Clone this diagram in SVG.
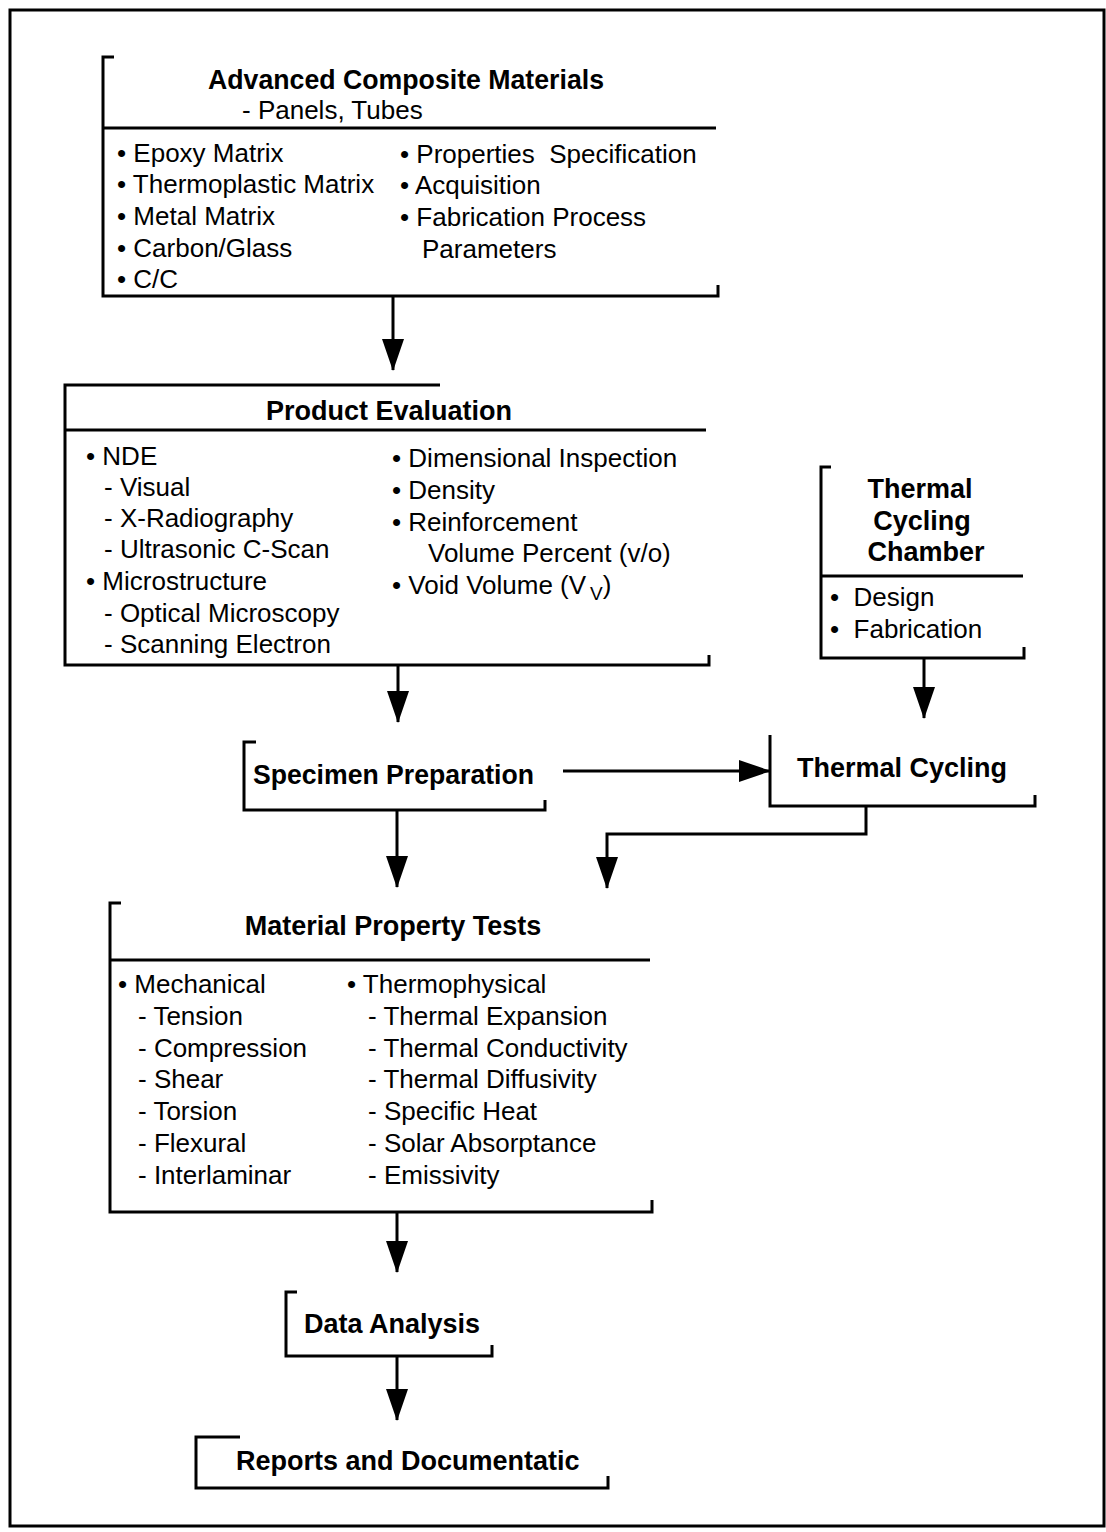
<svg xmlns="http://www.w3.org/2000/svg" width="1106" height="1532" viewBox="0 0 1106 1532">
<style>
.frame{fill:none;stroke:#000;stroke-width:3}
.ln{fill:none;stroke:#000;stroke-width:3}
.cn{fill:none;stroke:#000;stroke-width:3}
text{font-family:"Liberation Sans",Arial,sans-serif;fill:#000;white-space:pre}
.t{font-size:27px;font-weight:bold}
.r{font-size:26px}
.c{text-anchor:middle}
</style>
<defs>
<marker id="ah" viewBox="0 0 32 22" markerWidth="32" markerHeight="22" refX="31" refY="11" orient="auto" markerUnits="userSpaceOnUse">
<path d="M0,0 L32,11 L0,22 Z" fill="#000"/>
</marker>
</defs>
<rect x="0" y="0" width="1106" height="1532" fill="#fff"/>
<rect class="frame" x="10" y="10" width="1094" height="1516"/>

<g id="acm">
<path class="ln" d="M114,57 H103 V296 H718 V285"/>
<path class="ln" d="M103,128 H716"/>
<text class="t c" x="406" y="89" textLength="396" lengthAdjust="spacingAndGlyphs">Advanced Composite Materials</text>
<text class="r" x="242" y="119">- Panels, Tubes</text>
<text class="r" x="117" y="162">• Epoxy Matrix</text>
<text class="r" x="117" y="193">• Thermoplastic Matrix</text>
<text class="r" x="117" y="225">• Metal Matrix</text>
<text class="r" x="117" y="257">• Carbon/Glass</text>
<text class="r" x="117" y="288">• C/C</text>
<text class="r" x="400" y="163" xml:space="preserve">• Properties  Specification</text>
<text class="r" x="400" y="194">• Acquisition</text>
<text class="r" x="400" y="226">• Fabrication Process</text>
<text class="r" x="422" y="258">Parameters</text>
</g>

<g id="pe">
<path class="ln" d="M440,385 H65 V665 H709 V655"/>
<path class="ln" d="M65,430 H706"/>
<text class="t c" x="389" y="420">Product Evaluation</text>
<text class="r" x="86" y="465">• NDE</text>
<text class="r" x="104" y="496">- Visual</text>
<text class="r" x="104" y="527">- X-Radiography</text>
<text class="r" x="104" y="558">- Ultrasonic C-Scan</text>
<text class="r" x="86" y="590">• Microstructure</text>
<text class="r" x="104" y="622">- Optical Microscopy</text>
<text class="r" x="104" y="653">- Scanning Electron</text>
<text class="r" x="392" y="467">• Dimensional Inspection</text>
<text class="r" x="392" y="499">• Density</text>
<text class="r" x="392" y="531">• Reinforcement</text>
<text class="r" x="428" y="562">Volume Percent (v/o)</text>
<text class="r" x="392" y="594">• Void Volume (V<tspan font-size="19" dx="4" dy="6">V</tspan><tspan dy="-6">)</tspan></text>
</g>

<g id="tcc">
<path class="ln" d="M831,467 H821 V658 H1024 V647"/>
<path class="ln" d="M821,576 H1023"/>
<text class="t c" x="920" y="498">Thermal</text>
<text class="t c" x="922" y="530">Cycling</text>
<text class="t c" x="926" y="561">Chamber</text>
<text class="r" x="830" y="606" xml:space="preserve">•  Design</text>
<text class="r" x="830" y="638" xml:space="preserve">•  Fabrication</text>
</g>

<g id="sp">
<path class="ln" d="M256,742 H244 V810 H545 V800"/>
<text class="t" x="253" y="784" textLength="281" lengthAdjust="spacingAndGlyphs">Specimen Preparation</text>
</g>

<g id="tc">
<path class="ln" d="M770,735 V806 H1035 V795"/>
<text class="t" x="797" y="777">Thermal Cycling</text>
</g>

<g id="mpt">
<path class="ln" d="M121,903 H110 V1212 H652 V1200"/>
<path class="ln" d="M110,960 H650"/>
<text class="t c" x="393" y="935">Material Property Tests</text>
<text class="r" x="118" y="993">• Mechanical</text>
<text class="r" x="138" y="1025">- Tension</text>
<text class="r" x="138" y="1057">- Compression</text>
<text class="r" x="138" y="1088">- Shear</text>
<text class="r" x="138" y="1120">- Torsion</text>
<text class="r" x="138" y="1152">- Flexural</text>
<text class="r" x="138" y="1184">- Interlaminar</text>
<text class="r" x="347" y="993">• Thermophysical</text>
<text class="r" x="368" y="1025">- Thermal Expansion</text>
<text class="r" x="368" y="1057">- Thermal Conductivity</text>
<text class="r" x="368" y="1088">- Thermal Diffusivity</text>
<text class="r" x="368" y="1120">- Specific Heat</text>
<text class="r" x="368" y="1152">- Solar Absorptance</text>
<text class="r" x="368" y="1184">- Emissivity</text>
</g>

<g id="da">
<path class="ln" d="M297,1292 H286 V1356 H492 V1345"/>
<text class="t" x="304" y="1333">Data Analysis</text>
</g>

<g id="rd">
<path class="ln" d="M240,1437 H196 V1488 H608 V1476"/>
<text class="t" x="236" y="1470">Reports and Documentatic</text>
</g>

<g id="connectors">
<path class="cn" d="M393,296 V370" marker-end="url(#ah)"/>
<path class="cn" d="M398,665 V722" marker-end="url(#ah)"/>
<path class="cn" d="M563,771 H770" marker-end="url(#ah)"/>
<path class="cn" d="M924,658 V718" marker-end="url(#ah)"/>
<path class="cn" d="M866,806 V834 H607 V888" marker-end="url(#ah)"/>
<path class="cn" d="M397,810 V887" marker-end="url(#ah)"/>
<path class="cn" d="M397,1212 V1272" marker-end="url(#ah)"/>
<path class="cn" d="M397,1356 V1420" marker-end="url(#ah)"/>
</g>
</svg>
